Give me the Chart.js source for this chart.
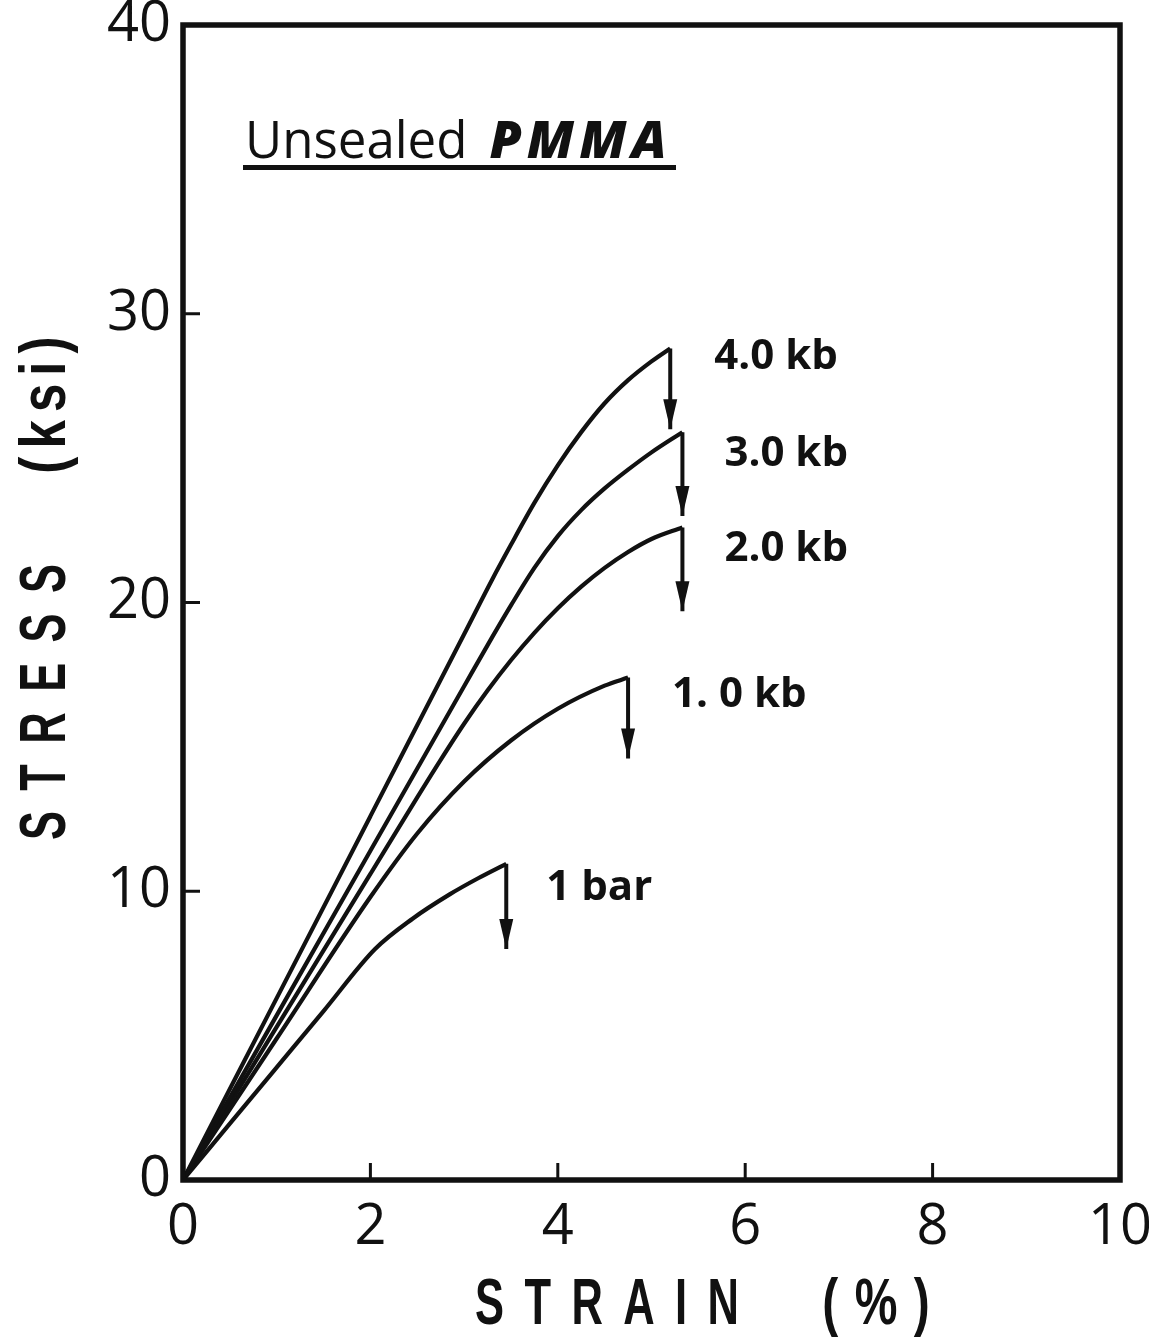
<!DOCTYPE html>
<html>
<head>
<meta charset="utf-8">
<title>Unsealed PMMA stress-strain</title>
<script src="https://cdn.jsdelivr.net/npm/chart.js@4.4.0/dist/chart.umd.min.js"></script>
<style>
  html, body { margin: 0; padding: 0; background: #fff; }
  #chart { display: block; }
</style>
</head>
<body>
<canvas id="chart" width="1149" height="1342"></canvas>
<script>
const INK = "#111";
const NUM_FONT = '"Open Sans", "Liberation Sans", sans-serif';
const TITLE_FONT = '"Liberation Sans", sans-serif';

// stress-strain curves (strain %, stress ksi)
const strain4kb = [0, 1.0, 2.0, 3.0, 3.3, 3.5, 3.75, 4.0, 4.25, 4.5, 4.75, 5.0, 5.2];
const stress4kb = [0, 6.3, 12.6, 18.9, 20.8, 22.0, 23.45, 24.75, 25.9, 26.9, 27.7, 28.35, 28.8];
const strain3kb = [0, 1.0, 2.0, 3.0, 3.3, 3.5, 3.75, 4.0, 4.25, 4.5, 4.75, 5.0, 5.33];
const stress3kb = [0, 5.7, 11.4, 17.1, 18.8, 19.9, 21.2, 22.3, 23.2, 23.95, 24.6, 25.2, 25.9];
const strain2kb = [0, 1.0, 2.0, 2.5, 2.75, 3.0, 3.25, 3.5, 3.75, 4.0, 4.25, 4.5, 4.75, 5.0, 5.33];
const stress2kb = [0, 5.3, 10.6, 13.25, 14.55, 15.8, 16.95, 18.0, 18.95, 19.8, 20.55, 21.2, 21.75, 22.2, 22.6];
const strain1kb = [0, 1.0, 2.0, 2.5, 3.0, 3.5, 4.0, 4.5, 4.75];
const stress1kb = [0, 4.9, 9.8, 12.0, 13.8, 15.22, 16.32, 17.12, 17.4];
const strain1bar = [0, 0.5, 1.0, 1.5, 2.05, 2.45, 2.85, 3.15, 3.45];
const stress1bar = [0, 1.95, 3.9, 5.85, 8.0, 9.05, 9.9, 10.45, 10.95];

// failure: vertical drop arrows
const seriesLabels = ["4.0 kb", "3.0 kb", "2.0 kb", "1. 0 kb", "1 bar"];
const failStrain = [5.2, 5.33, 5.33, 4.75, 3.45];
const failStress = [28.8, 25.9, 22.6, 17.4, 10.95];
const dropStress = [26.0, 23.0, 19.7, 14.6, 8.0];

const xTicks = [0, 2, 4, 6, 8, 10];
const yTicks = [0, 10, 20, 30, 40];

// label offsets from the failure point, pixels
const labelDx = [44, 42, 42, 44, 40];
const labelDy = [9, 22, 22, 17, 24];

const curves = [
  [strain4kb, stress4kb],
  [strain3kb, stress3kb],
  [strain2kb, stress2kb],
  [strain1kb, stress1kb],
  [strain1bar, stress1bar],
];

const toPoints = (xs, ys) => xs.map((x, i) => ({ x, y: ys[i] }));

const curveSets = curves.map(([xs, ys], i) => ({
  label: seriesLabels[i],
  data: toPoints(xs, ys),
  showLine: true,
  borderColor: INK,
  borderWidth: 4.2,
  pointRadius: 0,
  cubicInterpolationMode: "monotone",
  borderJoinStyle: "miter",
}));

const arrowSets = failStrain.map((x, i) => ({
  label: seriesLabels[i] + " failure",
  data: [
    { x, y: failStress[i] },
    { x, y: dropStress[i] },
  ],
  showLine: true,
  borderColor: INK,
  borderWidth: 4,
  pointRadius: 0,
  tension: 0,
}));

function spacedText(ctx, text, x, y, font, spacing, sx) {
  ctx.save();
  ctx.translate(x, y);
  ctx.scale(sx, 1);
  ctx.font = font;
  ctx.letterSpacing = spacing + "px";
  const w = ctx.measureText(text).width - spacing;
  ctx.fillText(text, -w / 2, 0);
  ctx.restore();
}

const framePlugin = {
  id: "frame",
  afterDraw(chart) {
    const { ctx, chartArea: a, scales } = chart;
    ctx.save();
    ctx.strokeStyle = INK;
    ctx.lineWidth = 5.5;
    ctx.strokeRect(a.left, a.top, a.right - a.left, a.bottom - a.top);
    ctx.lineWidth = 3;
    // inward tick marks
    scales.x.ticks.forEach((t) => {
      if (t.value <= scales.x.min || t.value >= scales.x.max) return;
      const px = scales.x.getPixelForValue(t.value);
      ctx.beginPath();
      ctx.moveTo(px, a.bottom);
      ctx.lineTo(px, a.bottom - 17);
      ctx.stroke();
    });
    scales.y.ticks.forEach((t) => {
      if (t.value <= scales.y.min || t.value >= scales.y.max) return;
      const py = scales.y.getPixelForValue(t.value);
      ctx.beginPath();
      ctx.moveTo(a.left, py);
      ctx.lineTo(a.left + 17, py);
      ctx.stroke();
    });
    ctx.restore();
  },
};

const notesPlugin = {
  id: "notes",
  afterDatasetsDraw(chart) {
    const { ctx, chartArea: a, scales } = chart;
    ctx.save();
    ctx.fillStyle = INK;

    // arrowheads and pressure labels
    failStrain.forEach((fx, i) => {
      const px = scales.x.getPixelForValue(fx);
      const tip = scales.y.getPixelForValue(dropStress[i]);
      ctx.beginPath();
      ctx.moveTo(px - 7, tip - 30);
      ctx.lineTo(px + 7, tip - 30);
      ctx.lineTo(px, tip);
      ctx.closePath();
      ctx.fill();

      const py = scales.y.getPixelForValue(failStress[i]);
      ctx.font = "700 42px " + NUM_FONT;
      ctx.textBaseline = "middle";
      ctx.textAlign = "left";
      ctx.fillText(seriesLabels[i], px + labelDx[i], py + labelDy[i]);
    });

    // boxed-in title
    const tx = a.left + 62;
    const ty = a.top + 133;
    ctx.textBaseline = "alphabetic";
    ctx.textAlign = "left";
    ctx.font = "500 51px " + NUM_FONT;
    ctx.fillText("Unsealed", tx, ty);
    const w1 = ctx.measureText("Unsealed").width;
    ctx.font = "italic 800 52px " + NUM_FONT;
    ctx.letterSpacing = "5px";
    ctx.fillText("PMMA", tx + w1 + 22, ty);
    ctx.letterSpacing = "0px";
    ctx.fillRect(tx - 2, ty + 7, 433, 5);

    // axis titles
    ctx.textBaseline = "middle";
    const axisFont = "700 64px " + TITLE_FONT;
    spacedText(ctx, "STRAIN", 607, 1306, axisFont, 30, 0.68);
    spacedText(ctx, "(%)", 876, 1306, axisFont, 22, 0.75);
    ctx.translate(47, 0);
    ctx.rotate(-Math.PI / 2);
    spacedText(ctx, "STRESS", -702, 0, axisFont, 30, 0.68);
    spacedText(ctx, "(ksi)", -405, 0, axisFont, 10, 0.8);
    ctx.restore();
  },
};

new Chart(document.getElementById("chart"), {
  type: "scatter",
  data: { datasets: [...curveSets, ...arrowSets] },
  options: {
    responsive: false,
    animation: false,
    devicePixelRatio: 1,
    layout: { padding: { top: 25, right: 29, left: 0, bottom: 0 } },
    plugins: {
      legend: { display: false },
      tooltip: { enabled: false },
    },
    scales: {
      x: {
        type: "linear",
        min: 0,
        max: 10,
        afterBuildTicks: (s) => { s.ticks = xTicks.map((v) => ({ value: v })); },
        afterFit: (s) => {
          s.height = 162;
          s.paddingLeft = 0;
          s.paddingRight = 0;
        },
        grid: { display: false, drawTicks: false },
        border: { display: false },
        ticks: {
          color: INK,
          padding: 14,
          maxRotation: 0,
          font: { family: NUM_FONT, size: 56, weight: "400" },
        },
      },
      y: {
        type: "linear",
        min: 0,
        max: 40,
        afterBuildTicks: (s) => { s.ticks = yTicks.map((v) => ({ value: v })); },
        afterFit: (s) => {
          s.width = 183;
          s.paddingTop = 0;
          s.paddingBottom = 0;
        },
        grid: { display: false, drawTicks: false },
        border: { display: false },
        ticks: {
          color: INK,
          padding: 12,
          font: { family: NUM_FONT, size: 56, weight: "400" },
        },
      },
    },
  },
  plugins: [framePlugin, notesPlugin],
});
</script>
</body>
</html>
